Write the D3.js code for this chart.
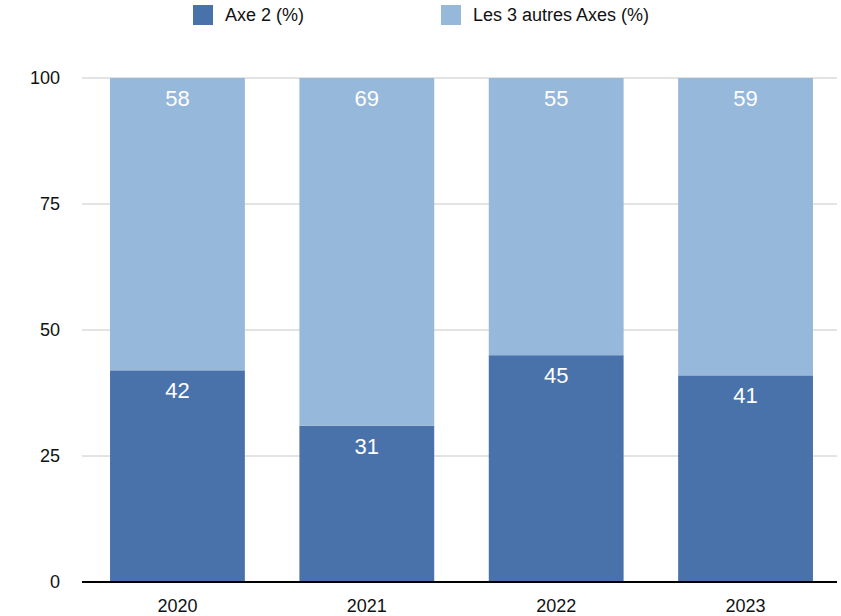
<!DOCTYPE html>
<html>
<head>
<meta charset="utf-8">
<script src="https://cdn.jsdelivr.net/npm/d3@7"></script>
<style>
  body { margin: 0; background: #fff; }
  svg { font-family: "Helvetica Neue", Helvetica, "Liberation Sans", Arial, sans-serif; }
</style>
</head>
<body>
<div id="chart"></div>
<script>
var years = ["2020", "2021", "2022", "2023"];
var axe2 = [42, 31, 45, 41];
var autres = [58, 69, 55, 59];
var seriesNames = ["Axe 2 (%)", "Les 3 autres Axes (%)"];
var colors = ["#4a72aa", "#95b8db"];
var yTicks = [0, 25, 50, 75, 100];

var width = 841, height = 616;
var margin = {top: 78, right: 4, bottom: 34, left: 82};

var svg = d3.select("#chart")
    .append("svg")
    .attr("width", width)
    .attr("height", height);

var xScale = d3.scaleBand()
    .domain(years)
    .range([margin.left, width])
    .paddingInner(0.288)
    .paddingOuter(0.148);

var yScale = d3.scaleLinear()
    .domain([0, 100])
    .range([height - margin.bottom, margin.top]);

// gridlines
svg.append("g")
    .selectAll("line")
    .data(yTicks.filter(d => d > 0))
    .enter()
    .append("line")
    .attr("x1", margin.left)
    .attr("x2", width - margin.right)
    .attr("y1", d => yScale(d))
    .attr("y2", d => yScale(d))
    .style("stroke", "#c8c8c8")
    .style("stroke-width", 1);

// y tick labels
svg.append("g")
    .selectAll("text")
    .data(yTicks)
    .enter()
    .append("text")
    .attr("x", 60)
    .attr("y", d => yScale(d))
    .attr("dy", "0.35em")
    .attr("text-anchor", "end")
    .style("font-size", "18px")
    .style("fill", "#111")
    .text(d => d);

var rows = years.map((y, i) => ({year: y, a: axe2[i], b: autres[i]}));
var stack = d3.stack().keys(["a", "b"])(rows);

var layers = svg.append("g")
    .selectAll("g")
    .data(stack)
    .enter()
    .append("g")
    .style("fill", (d, i) => colors[i]);

layers.selectAll("rect")
    .data(d => d)
    .enter()
    .append("rect")
    .attr("x", d => xScale(d.data.year))
    .attr("width", xScale.bandwidth())
    .attr("y", d => yScale(d[1]))
    .attr("height", d => yScale(d[0]) - yScale(d[1]));

// value labels
layers.selectAll("text")
    .data(d => d)
    .enter()
    .append("text")
    .attr("x", d => xScale(d.data.year) + xScale.bandwidth() / 2)
    .attr("y", d => yScale(d[1]) + 28)
    .attr("text-anchor", "middle")
    .style("fill", "#fff")
    .style("font-size", "22px")
    .style("font-weight", "500")
    .text(d => d[1] - d[0]);

// baseline
svg.append("line")
    .attr("x1", margin.left)
    .attr("x2", width - margin.right)
    .attr("y1", yScale(0))
    .attr("y2", yScale(0))
    .style("stroke", "#000")
    .style("stroke-width", 2);

// x labels
svg.append("g")
    .selectAll("text")
    .data(years)
    .enter()
    .append("text")
    .attr("x", d => xScale(d) + xScale.bandwidth() / 2)
    .attr("y", height - 4)
    .attr("text-anchor", "middle")
    .style("font-size", "18px")
    .style("fill", "#111")
    .text(d => d);

// legend
var legendX = [193, 441];
var legend = svg.append("g")
    .selectAll("g")
    .data(seriesNames)
    .enter()
    .append("g")
    .attr("transform", (d, i) => "translate(" + legendX[i] + ",5)");

legend.append("rect")
    .attr("width", 20)
    .attr("height", 20)
    .style("fill", (d, i) => colors[i]);

legend.append("text")
    .attr("x", 32)
    .attr("y", 10)
    .attr("dy", "0.35em")
    .style("font-size", "18px")
    .style("fill", "#111")
    .text(d => d);
</script>
</body>
</html>
